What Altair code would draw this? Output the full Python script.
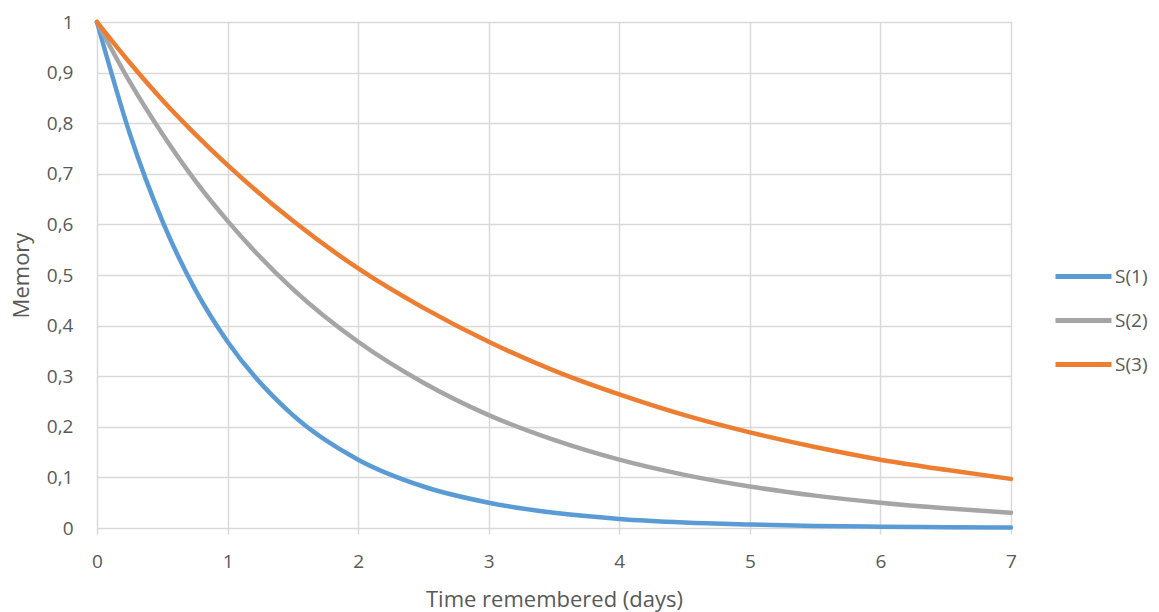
import altair as alt
import pandas as pd

days = [0, 0.25, 0.5, 0.75, 1, 1.5, 2, 2.5, 3, 3.5, 4, 4.5, 5, 5.5, 6, 6.5, 7]
s1 = [1, 0.78, 0.607, 0.472, 0.368, 0.223, 0.135, 0.082, 0.05, 0.03, 0.018, 0.011, 0.007, 0.004, 0.0025, 0.0015, 0.001]
s2 = [1, 0.882, 0.779, 0.687, 0.607, 0.472, 0.368, 0.287, 0.223, 0.174, 0.135, 0.105, 0.082, 0.064, 0.05, 0.039, 0.03]
s3 = [1, 0.92, 0.846, 0.779, 0.717, 0.607, 0.513, 0.435, 0.368, 0.311, 0.264, 0.223, 0.189, 0.16, 0.135, 0.115, 0.097]
series_names = ["S(1)", "S(2)", "S(3)"]
colors = ["#5b9bd5", "#a5a5a5", "#ed7d31"]

rows = []
for name, vals in zip(series_names, [s1, s2, s3]):
    for t, v in zip(days, vals):
        rows.append({"t": t, "memory": v, "series": name})
df = pd.DataFrame(rows)

FONT = "Open Sans"
TXT = "#595959"

chart = alt.Chart(df).mark_line(strokeWidth=4.5, interpolate="monotone", strokeCap="round").encode(
    x=alt.X("t:Q", scale=alt.Scale(domain=[0, 7], nice=False),
            axis=alt.Axis(title="Time remembered (days)", values=list(range(8)), format="d",
                          grid=True, gridColor="#d9d9d9", gridWidth=1.5, labelFlush=False,
                          domain=False, ticks=True, tickSize=6, tickColor="#d9d9d9", tickWidth=1.5,
                          labelFontSize=19, labelColor=TXT, labelFont=FONT, labelPadding=18,
                          titleFontSize=22, titleColor=TXT, titleFont=FONT, titleFontWeight="normal",
                          titlePadding=18)),
    y=alt.Y("memory:Q", scale=alt.Scale(domain=[0, 1], nice=False),
            axis=alt.Axis(title="Memory", values=[i / 10 for i in range(11)], format=".1~f",
                          labelExpr="replace(datum.label, '.', ',')",
                          grid=True, gridColor="#d9d9d9", gridWidth=1.5, labelFlush=False,
                          domain=False, ticks=False,
                          labelFontSize=19, labelColor=TXT, labelFont=FONT, labelPadding=24,
                          titleFontSize=22, titleColor=TXT, titleFont=FONT, titleFontWeight="normal",
                          titlePadding=13)),
    color=alt.Color("series:N", scale=alt.Scale(domain=series_names, range=colors),
                    legend=alt.Legend(title=None, orient="none", legendX=956, legendY=224,
                                      symbolType="stroke", symbolSize=3136, symbolStrokeWidth=5,
                                      labelFontSize=19, labelColor=TXT, labelFont=FONT,
                                      labelOffset=1, rowPadding=3)),
).properties(
    width=914, height=506,
    autosize=alt.AutoSizeParams(type="none"),
    padding={"left": 97, "top": 22, "right": 148, "bottom": 84},
).configure_view(stroke=None).configure(background="white")

chart.save("out.html", embed_options={"renderer": "svg", "actions": False})
